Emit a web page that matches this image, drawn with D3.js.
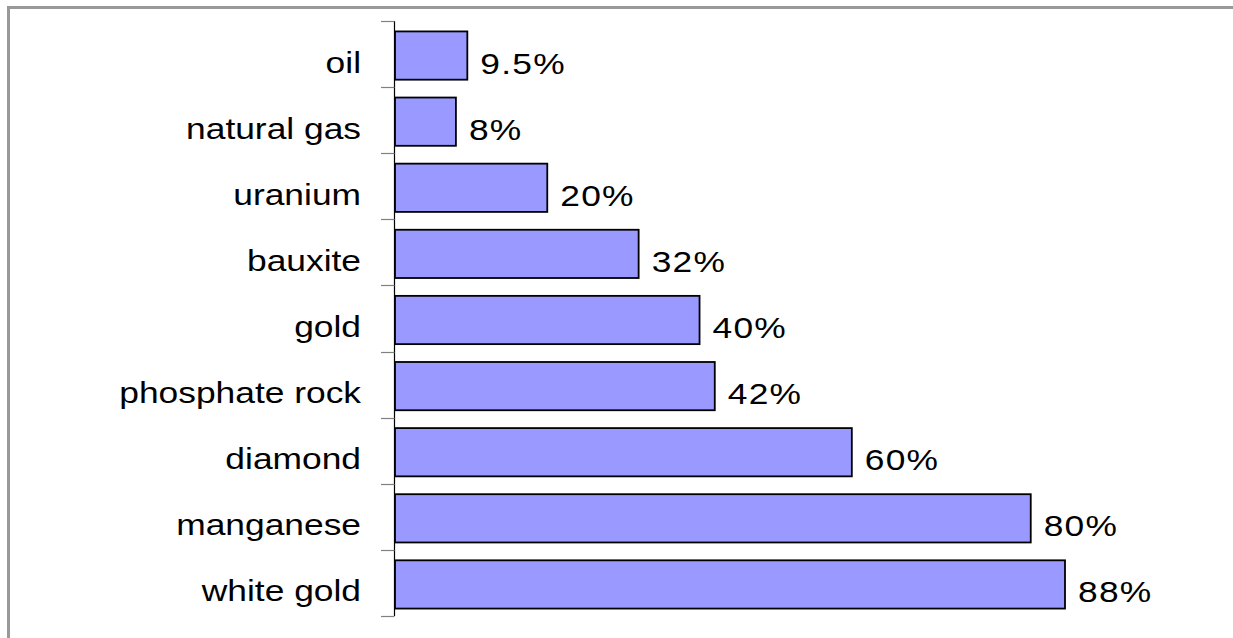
<!DOCTYPE html>
<html>
<head>
<meta charset="utf-8">
<script src="https://cdn.jsdelivr.net/npm/d3@7"></script>
<style>
  html, body { margin: 0; padding: 0; background: #fff; overflow: hidden; }
  svg { display: block; }
  text { font-family: "Liberation Sans", Arial, sans-serif; fill: #000; }
</style>
</head>
<body>
<svg id="chart" width="1233" height="638"></svg>
<script>
// ---- data ----
const categories = ["oil", "natural gas", "uranium", "bauxite", "gold", "phosphate rock", "diamond", "manganese", "white gold"];
const values = [9.5, 8, 20, 32, 40, 42, 60, 83.5, 88];
const valueLabels = ["9.5%", "8%", "20%", "32%", "40%", "42%", "60%", "80%", "88%"];

// ---- layout ----
const W = 1233, H = 638;
const axisX = 395;
const svg = d3.select("#chart");

// outer frame: only the top and left edges fall inside the picture
svg.append("path")
  .attr("d", `M8.5,${H} L8.5,7.5 L${W},7.5`)
  .attr("fill", "none").attr("stroke", "#999").attr("stroke-width", 3);

const x = d3.scaleLinear().domain([0, 88]).range([axisX, 1065]);
const y = d3.scaleBand().domain(categories).range([21, 616]).paddingInner(0.27).paddingOuter(0.135);

const step = y.step();
const gap = (step - y.bandwidth()) / 2;

// bars
svg.append("g").selectAll("rect")
  .data(categories)
  .join("rect")
  .attr("x", x(0))
  .attr("y", d => y(d) + 1.5)
  .attr("width", (d, i) => x(values[i]) - x(0))
  .attr("height", y.bandwidth())
  .attr("fill", "#9999FF")
  .attr("stroke", "#000")
  .attr("stroke-width", 1.8);

// axis line and ticks at category boundaries
const bounds = categories.map(c => y(c) - gap).concat([y.range()[1]]);
svg.append("line")
  .attr("x1", axisX - 0.5).attr("x2", axisX - 0.5)
  .attr("y1", y.range()[0]).attr("y2", y.range()[1])
  .attr("stroke", "#000").attr("stroke-width", 1.2);
svg.append("g").selectAll("line")
  .data(bounds)
  .join("line")
  .attr("x1", axisX - 14).attr("x2", axisX - 0.5)
  .attr("y1", d => Math.round(d) + 0.5).attr("y2", d => Math.round(d) + 0.5)
  .attr("stroke", "#808080").attr("stroke-width", 1.2);

const fontSize = 29, stretch = 1.22;

// category labels
svg.append("g").selectAll("text")
  .data(categories)
  .join("text")
  .attr("transform", d => `translate(361,${y(d) + y.bandwidth() / 2 + 18.5}) scale(${stretch},1)`)
  .attr("text-anchor", "end")
  .style("font-size", fontSize + "px")
  .text(d => d);

// value labels
svg.append("g").selectAll("text")
  .data(categories)
  .join("text")
  .attr("transform", (d, i) => `translate(${x(values[i]) + 13},${y(d) + y.bandwidth() / 2 + 19.5}) scale(${stretch},1)`)
  .attr("text-anchor", "start")
  .style("font-size", fontSize + "px")
  .style("letter-spacing", "1px")
  .text((d, i) => valueLabels[i]);
</script>
</body>
</html>
